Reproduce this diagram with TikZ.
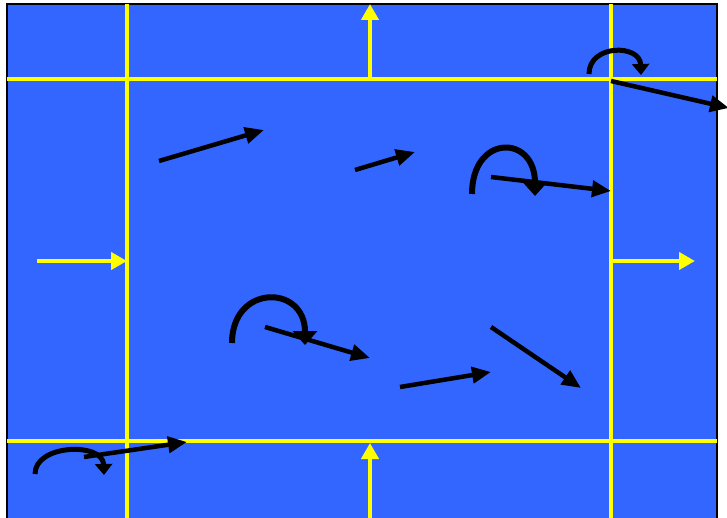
\documentclass[tikz,border=0pt]{standalone}
\usetikzlibrary{arrows.meta}
\definecolor{fond}{HTML}{3366FF}
\definecolor{jaune}{HTML}{FFFF00}
\tikzset{every picture/.style={line width=0.75pt}}
\begin{document}
\begin{tikzpicture}[x=1pt,y=-1pt,
    grille/.style={jaune,line width=4pt},
    flux/.style={jaune,line width=4pt,-{Triangle[length=16pt,width=17pt]}},
    vit/.style={line width=4.5pt,-{Triangle[length=19pt,width=16pt]}},
    rot/.style={line width=6pt,-{Triangle[length=14pt,width=24pt]}},
    petitrot/.style={line width=5pt,-{Triangle[length=11pt,width=17pt]}}]
  \useasboundingbox (0,0) rectangle (727,518);
  \clip (0,0) rectangle (727,518);

  % --- le domaine ---
  \draw[fill=fond,line width=2.5pt] (7,4) rectangle (717,530);

  % --- grille jaune ---
  \coordinate (gH) at (7,79);   \coordinate (dH) at (717,79);
  \coordinate (gB) at (7,441);  \coordinate (dB) at (717,441);
  \coordinate (hG) at (127,4);  \coordinate (bG) at (127,530);
  \coordinate (hD) at (611,4);  \coordinate (bD) at (611,530);
  \draw[grille] (gH) -- (dH);
  \draw[grille] (gB) -- (dB);
  \draw[grille] (hG) -- (bG);
  \draw[grille] (hD) -- (bD);

  % --- flux aux faces ---
  \draw[flux] (370,79) -- (370,4);
  \draw[flux] (370,518) -- (370,443);
  \draw[flux] (37,261) -- (127,261);
  \draw[flux] (611,261) -- (695,261);

  % --- vitesses ---
  \foreach \a/\b in {{(159,161)}/{(264,130)},{(355,170)}/{(415,152)},
                     {(491,177)}/{(611,191)},{(265,327)}/{(370,358)},
                     {(400,387)}/{(491,372)},{(491,327)}/{(581,388)},
                     {(611,81)}/{(729,108)},{(84,457)}/{(187,442)}}
    \draw[vit] \a -- \b;

  % --- tourbillons ---
  \draw[rot] (472,194) .. controls (472,134) and (535,134) .. (535,196);
  \draw[rot] (232,343) .. controls (232,284) and (305,284) .. (305,345);
  \draw[petitrot] (589,74) .. controls (589,44) and (640,44) .. (641,75);
  \draw[petitrot] (35,474) .. controls (35,444) and (103,442) .. (104,475);
\end{tikzpicture}
\end{document}
